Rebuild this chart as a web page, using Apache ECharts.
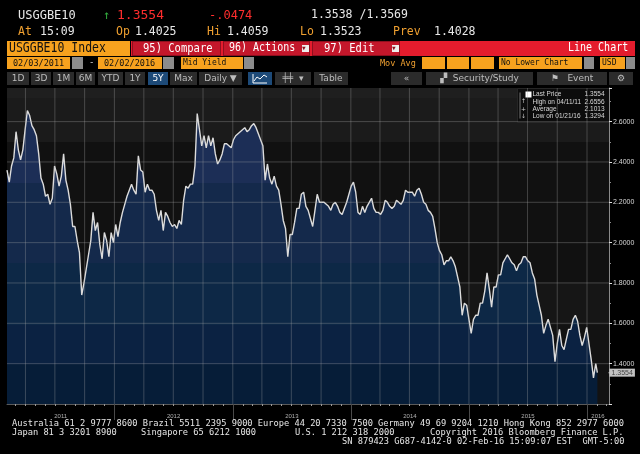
<!DOCTYPE html>
<html><head><meta charset="utf-8">
<script src="https://cdn.jsdelivr.net/npm/echarts@6/dist/echarts.min.js"></script>
<style>
html,body{margin:0;padding:0;background:#000;width:640px;height:454px;overflow:hidden;}
#chart{position:absolute;left:0;top:0;width:640px;height:454px;}
.t{position:absolute;white-space:pre;font-family:'DejaVu Sans Mono',monospace;line-height:1;z-index:5;}
.b{position:absolute;z-index:4;box-sizing:border-box;}
.or{background:#f7a21e;}
.gr{background:#8c8c8c;}
.btn{position:absolute;z-index:4;background:#2b2b2b;color:#bdbdbd;font-family:'DejaVu Sans',sans-serif;font-size:9px;line-height:13px;height:13px;top:72px;text-align:center;white-space:pre;overflow:hidden;}
.btn svg{vertical-align:top;}
.ft{position:absolute;white-space:pre;font-family:'DejaVu Sans Mono',monospace;font-size:8.7px;line-height:1;color:#e6e6e6;z-index:5;}
.rb{transform:scaleY(1.15);transform-origin:left top;}
</style></head>
<body>
<div id="chart"></div>

<!-- header row 1 -->
<div class="t" style="left:18px;top:9px;font-size:12px;color:#e8e8e8">USGGBE10</div>
<div class="t" style="left:103px;top:9px;font-size:12px;color:#34b040">↑</div>
<div class="t" style="left:117px;top:8px;font-size:13px;color:#ff2d2d">1.3554</div>
<div class="t" style="left:209px;top:9px;font-size:12px;color:#ff2d2d">-.0474</div>
<div class="t" style="left:311px;top:9px;font-size:11.5px;color:#e8e8e8">1.3538 /1.3569</div>
<!-- header row 2 -->
<div class="t" style="left:18px;top:26px;font-size:11.5px;color:#f0a030">At</div>
<div class="t" style="left:40px;top:26px;font-size:11.5px;color:#e8e8e8">15:09</div>
<div class="t" style="left:116px;top:26px;font-size:11.5px;color:#f0a030">Op</div>
<div class="t" style="left:135px;top:26px;font-size:11.5px;color:#e8e8e8">1.4025</div>
<div class="t" style="left:207px;top:26px;font-size:11.5px;color:#f0a030">Hi</div>
<div class="t" style="left:227px;top:26px;font-size:11.5px;color:#e8e8e8">1.4059</div>
<div class="t" style="left:300px;top:26px;font-size:11.5px;color:#f0a030">Lo</div>
<div class="t" style="left:320px;top:26px;font-size:11.5px;color:#e8e8e8">1.3523</div>
<div class="t" style="left:393px;top:26px;font-size:11.5px;color:#f0a030">Prev</div>
<div class="t" style="left:434px;top:26px;font-size:11.5px;color:#e8e8e8">1.4028</div>

<!-- row 3 -->
<div class="b or" style="left:7px;top:41px;width:123px;height:15px;"></div>
<div class="t rb" style="left:9px;top:42px;font-size:11.5px;color:#111">USGGBE10 Index</div>
<div class="b" style="left:131px;top:41px;width:504px;height:15px;background:#e41c2d;"></div>
<div class="b" style="left:132px;top:41px;width:89px;height:15px;background:#c4172b;border:1px solid #8e0f1e;"></div>
<div class="b" style="left:223px;top:41px;width:87px;height:15px;background:#c4172b;border:1px solid #8e0f1e;"></div>
<div class="b" style="left:312px;top:41px;width:88px;height:15px;background:#c4172b;border:1px solid #8e0f1e;"></div>
<div class="t rb" style="left:143px;top:42px;font-size:10.5px;color:#fff">95) Compare</div>
<div class="t rb" style="left:229px;top:42px;font-size:10px;color:#fff">96) Actions</div>
<div class="b" style="left:302px;top:45px;width:7px;height:7px;background:#eee;"></div>
<div class="t" style="left:302px;top:45px;font-size:6px;color:#8e0f1e">▼</div>
<div class="t rb" style="left:324px;top:42px;font-size:10.5px;color:#fff">97) Edit</div>
<div class="b" style="left:392px;top:45px;width:7px;height:7px;background:#eee;"></div>
<div class="t" style="left:392px;top:45px;font-size:6px;color:#8e0f1e">▼</div>
<div class="t rb" style="left:568px;top:42px;font-size:10px;color:#fff">Line Chart</div>

<!-- row 4 -->
<div class="b or" style="left:7px;top:57px;width:63px;height:12px;"></div>
<div class="t" style="left:13px;top:59px;font-size:8.5px;color:#111">02/03/2011</div>
<div class="b gr" style="left:72px;top:57px;width:11px;height:12px;"></div>
<div class="t" style="left:89px;top:58px;font-size:9px;color:#ddd">-</div>
<div class="b or" style="left:98px;top:57px;width:64px;height:12px;"></div>
<div class="t" style="left:104px;top:59px;font-size:8.5px;color:#111">02/02/2016</div>
<div class="b gr" style="left:163px;top:57px;width:11px;height:12px;"></div>
<div class="b or" style="left:181px;top:57px;width:62px;height:12px;"></div>
<div class="t" style="left:183px;top:59px;font-size:8px;color:#111">Mid Yield</div>
<div class="b gr" style="left:244px;top:57px;width:10px;height:12px;"></div>
<div class="t" style="left:380px;top:59px;font-size:8.5px;color:#f0a030">Mov Avg</div>
<div class="b or" style="left:422px;top:57px;width:23px;height:12px;"></div>
<div class="b or" style="left:447px;top:57px;width:22px;height:12px;"></div>
<div class="b or" style="left:471px;top:57px;width:23px;height:12px;"></div>
<div class="b or" style="left:499px;top:57px;width:83px;height:12px;"></div>
<div class="t" style="left:501px;top:59px;font-size:8px;color:#111">No Lower Chart</div>
<div class="b gr" style="left:584px;top:57px;width:10px;height:12px;"></div>
<div class="b or" style="left:600px;top:57px;width:25px;height:12px;"></div>
<div class="t" style="left:602px;top:59px;font-size:8px;color:#111">USD</div>
<div class="b gr" style="left:626px;top:57px;width:9px;height:12px;"></div>

<!-- row 5 -->
<div class="btn" style="left:7px;width:22px;">1D</div>
<div class="btn" style="left:31px;width:20px;">3D</div>
<div class="btn" style="left:53px;width:21px;">1M</div>
<div class="btn" style="left:76px;width:19px;">6M</div>
<div class="btn" style="left:98px;width:25px;">YTD</div>
<div class="btn" style="left:125px;width:20px;">1Y</div>
<div class="btn" style="left:148px;width:20px;background:#1d4a78;color:#fff;">5Y</div>
<div class="btn" style="left:170px;width:27px;">Max</div>
<div class="btn" style="left:199px;width:43px;">Daily ▼</div>
<div class="btn" style="left:248px;width:24px;background:#1d4a78;color:#fff;"><svg width="16" height="12"><polyline points="2,9 5,5 8,7 12,3 15,5" fill="none" stroke="#fff" stroke-width="1"/><line x1="1" y1="11" x2="15" y2="11" stroke="#fff"/><line x1="1" y1="2" x2="1" y2="11" stroke="#fff"/></svg></div>
<div class="btn" style="left:275px;width:36px;">╪╪  ▾</div>
<div class="btn" style="left:314px;width:34px;">Table</div>
<div class="btn" style="left:391px;width:31px;">«</div>
<div class="btn" style="left:426px;width:107px;">▞  Security/Study</div>
<div class="btn" style="left:537px;width:70px;">⚑   Event</div>
<div class="btn" style="left:609px;width:24px;">⚙</div>

<!-- footer -->
<div class="ft" style="left:12px;top:419px;">Australia 61 2 9777 8600 Brazil 5511 2395 9000 Europe 44 20 7330 7500 Germany 49 69 9204 1210 Hong Kong 852 2977 6000</div>
<div class="ft" style="left:12px;top:428px;">Japan 81 3 3201 8900</div>
<div class="ft" style="left:141px;top:428px;">Singapore 65 6212 1000</div>
<div class="ft" style="left:295px;top:428px;">U.S. 1 212 318 2000</div>
<div class="ft" style="left:430px;top:428px;">Copyright 2016 Bloomberg Finance L.P.</div>
<div class="ft" style="left:342px;top:437px;">SN 879423 G687-4142-0 02-Feb-16 15:09:07 EST  GMT-5:00</div>

<script>
// ---------- data ----------
const startDate = '2011-02-03';     // first weekly observation
const stepDays = 7;                 // weekly observations
const lastDate = '2016-02-02';
const lastValue = 1.3554;
const axisStart = '2011-02-03';
const axisEnd = '2016-03-09';

const weeklyValues = [
2.36,2.30,2.38,2.42,2.55,2.46,2.41,2.46,2.56,2.655,
2.63,2.58,2.56,2.53,2.44,2.32,2.29,2.23,2.24,2.19,
2.22,2.38,2.34,2.28,2.33,2.44,2.31,2.26,2.19,2.08,
2.08,2.01,1.95,1.74,1.80,1.87,1.94,2.01,2.15,2.06,
2.10,1.99,1.92,2.05,2.01,1.93,2.05,2.00,2.09,2.03,
2.10,2.15,2.19,2.23,2.26,2.29,2.26,2.24,2.43,2.36,
2.35,2.25,2.29,2.26,2.26,2.24,2.16,2.11,2.16,2.06,
2.15,2.13,2.10,2.08,2.09,2.07,2.11,2.09,2.21,2.28,
2.27,2.29,2.29,2.38,2.64,2.56,2.48,2.53,2.47,2.53,
2.48,2.52,2.44,2.39,2.41,2.44,2.49,2.49,2.48,2.47,
2.51,2.53,2.54,2.55,2.56,2.57,2.55,2.56,2.58,2.59,
2.57,2.54,2.51,2.48,2.31,2.39,2.32,2.29,2.33,2.28,
2.26,2.19,2.11,2.07,1.93,2.04,2.04,2.10,2.17,2.17,
2.24,2.25,2.18,2.16,2.12,2.08,2.16,2.24,2.20,2.20,
2.20,2.19,2.18,2.16,2.19,2.20,2.18,2.15,2.14,2.17,
2.20,2.24,2.28,2.30,2.25,2.15,2.14,2.18,2.15,2.18,
2.20,2.22,2.17,2.15,2.15,2.14,2.16,2.21,2.20,2.18,
2.17,2.18,2.21,2.20,2.19,2.21,2.26,2.25,2.25,2.25,
2.23,2.26,2.27,2.24,2.20,2.19,2.16,2.15,2.13,2.07,
2.00,1.96,1.94,1.89,1.91,1.91,1.93,1.91,1.88,1.83,
1.78,1.64,1.70,1.69,1.62,1.55,1.62,1.64,1.64,1.70,
1.70,1.76,1.85,1.77,1.68,1.78,1.78,1.84,1.84,1.90,
1.92,1.94,1.92,1.90,1.89,1.86,1.89,1.90,1.93,1.93,
1.91,1.90,1.85,1.82,1.74,1.69,1.64,1.55,1.59,1.62,
1.58,1.54,1.41,1.50,1.57,1.49,1.47,1.52,1.57,1.57,
1.62,1.64,1.61,1.54,1.49,1.53,1.58,1.50,1.42,1.3294,
1.40
];

const yTickLabels = ['2.6000','2.4000','2.2000','2.0000','1.8000','1.6000','1.4000'];
const yearLabels = ['2011','2012','2013','2014','2015','2016'];

const legendNames = ['Last Price','High on 04/11/11','Average','Low on 01/21/16'];
const legendValues = ['1.3554','2.6556','2.1013','1.3294'];
const legendMarks = ['', '↑', '+', '↓'];

// ---------- build ----------
const DAY = 86400000;
const yMin = 1.2, yMax = 2.7667;
const t0 = Date.parse(startDate);
const seriesData = weeklyValues.map((v, k) => [t0 + k * stepDays * DAY, v]);
seriesData.push([Date.parse(lastDate), lastValue]);

const xMin = Date.parse(axisStart), xMax = Date.parse(axisEnd);
const monthTicks = [], quarterTicks = [], yearTicks = [], yearLabelPos = [];
for (let y = 2011; y <= 2016; y++) {
  for (let m = 0; m < 12; m++) {
    const t = Date.UTC(y, m, 1);
    if (t > xMin && t < xMax) {
      monthTicks.push(t);
      if (m % 3 === 0) quarterTicks.push(t);
      if (m === 0) yearTicks.push(t);
    }
  }
}
yearLabels.forEach(ys => {
  const y = +ys;
  const s = Math.max(Date.UTC(y, 0, 1), xMin), e = Math.min(Date.UTC(y + 1, 0, 1), xMax);
  yearLabelPos.push((s + e) / 2);
});

const gridColor = 'rgba(170,170,170,0.32)';
const gridSeries = [];
const mkGrid = pts => ({
  type: 'line', data: pts, silent: true, symbol: 'none', showSymbol: false, z: 3,
  color: gridColor, clip: false,
  lineStyle: { color: gridColor, type: 'solid', width: 1, opacity: 1 }, tooltip: { show: false }, animation: false
});
yTickLabels.forEach(l => { const v = parseFloat(l); gridSeries.push(mkGrid([[xMin, v], [xMax, v]])); });
quarterTicks.forEach(t => gridSeries.push(mkGrid([[t, yMin], [t, yMax]])));

const bg = new echarts.graphic.LinearGradient(0, 0, 0, 1, [
  { offset: 0, color: '#1f1f1f' }, { offset: 0.032, color: '#1f1f1f' },
  { offset: 0.032, color: '#1b1b1b' }, { offset: 0.171, color: '#1b1b1b' },
  { offset: 0.171, color: '#111111' }, { offset: 0.614, color: '#111111' },
  { offset: 0.614, color: '#161616' }, { offset: 0.75, color: '#161616' },
  { offset: 0.75, color: '#121212' }, { offset: 1, color: '#121212' }
]);
const fill = {
  type: 'linear', x: 0, y: 88, x2: 0, y2: 404, global: true,
  colorStops: [
    { offset: 0, color: '#1c2e56' }, { offset: 0.30, color: '#1c2e56' },
    { offset: 0.30, color: '#14294b' }, { offset: 0.554, color: '#14294b' },
    { offset: 0.554, color: '#0d2846' }, { offset: 0.75, color: '#0d2846' },
    { offset: 0.75, color: '#0b2242' }, { offset: 0.873, color: '#0b2242' },
    { offset: 0.873, color: '#061d38' }, { offset: 1, color: '#061d38' }
  ]
};

const legendChildren = [
  { type: 'rect', shape: { x: 0, y: 0, width: 92, height: 34 }, style: { fill: '#0c0c0c', stroke: '#262626' } },
  { type: 'rect', shape: { x: 2, y: 4, width: 1, height: 26 }, style: { fill: '#777' } },
  { type: 'rect', shape: { x: 8, y: 3, width: 6, height: 6 }, style: { fill: '#fff' } }
];
legendNames.forEach((n, i) => {
  const yy = 6 + i * 7.3;
  legendChildren.push({ type: 'text', style: { text: n, x: 15, y: yy, fill: '#d8d8d8', font: '6.5px "Liberation Sans"', textAlign: 'left', textVerticalAlign: 'middle' } });
  legendChildren.push({ type: 'text', style: { text: legendValues[i], x: 87, y: yy, fill: '#d8d8d8', font: '6.5px "Liberation Sans"', textAlign: 'right', textVerticalAlign: 'middle' } });
  if (legendMarks[i]) legendChildren.push({ type: 'text', style: { text: legendMarks[i], x: 6, y: yy, fill: '#cfcfcf', font: '6px "DejaVu Sans"', textAlign: 'center', textVerticalAlign: 'middle' } });
});

const chart = echarts.init(document.getElementById('chart'), null, { renderer: 'canvas' });
chart.setOption({
  backgroundColor: '#000',
  animation: false,
  grid: { left: 7, right: 31, top: 88, bottom: 50, show: true, borderWidth: 0, backgroundColor: bg },
  xAxis: [
    { type: 'value', min: xMin, max: xMax, position: 'bottom', scale: true,
      axisLine: { show: true, onZero: false, lineStyle: { color: '#5a5a5a' } },
      axisTick: { show: true, customValues: monthTicks, length: 2, lineStyle: { color: '#9a9a9a' } },
      axisLabel: { show: false }, splitLine: { show: false } },
    { type: 'value', min: xMin, max: xMax, position: 'bottom', scale: true,
      axisLine: { show: false, onZero: false },
      axisTick: { show: true, customValues: yearTicks, length: 16, lineStyle: { color: '#4a4a4a' } },
      axisLabel: { show: true, customValues: yearLabelPos, formatter: v => String(new Date(v).getUTCFullYear()),
        fontSize: 6, color: '#b0b0b0', margin: 9, fontFamily: 'Liberation Sans' },
      splitLine: { show: false } }
  ],
  yAxis: {
    type: 'value', position: 'right', min: yMin, max: yMax, interval: 0.2,
    axisLine: { show: true, lineStyle: { color: '#8a8a8a' } },
    axisTick: { show: true, length: 3, lineStyle: { color: '#e0e0e0' } },
    minorTick: { show: true, splitNumber: 2, length: 2, lineStyle: { color: '#8a8a8a' } },
    axisLabel: { color: '#d8d8d8', fontSize: 7, margin: 4, fontFamily: 'Liberation Sans',
      formatter: v => { const s = v.toFixed(4); return yTickLabels.includes(s) ? s : ''; } },
    splitLine: { show: false }
  },
  graphic: [{ type: 'group', left: 517, top: 88, children: legendChildren }],
  series: [{
    type: 'line', data: seriesData, xAxisIndex: 0, showSymbol: false, symbol: 'none', z: 2,
    lineStyle: { color: '#dcdcdc', width: 1.4 },
    areaStyle: { color: fill, opacity: 1, origin: 'start' }
  }].concat(gridSeries).concat([{
    type: 'scatter', data: [[xMax, lastValue]], symbol: 'rect', symbolSize: [1, 1], itemStyle: { color: '#f2f2f2' }, clip: false, z: 5, silent: true,
    label: { show: true, position: 'right', distance: 0, formatter: lastValue.toFixed(4), backgroundColor: '#f2f2f2',
      color: '#222', fontSize: 7, fontFamily: 'Liberation Sans', padding: [1, 2, 0, 2] }
  }])
});
</script>
</body></html>
